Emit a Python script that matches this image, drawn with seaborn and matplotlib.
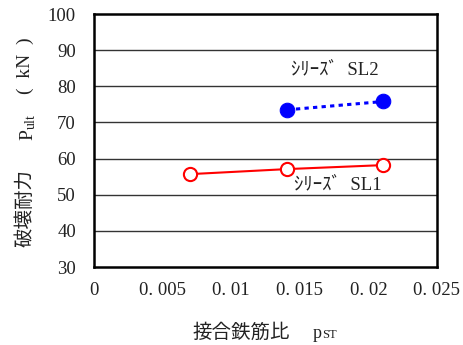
import matplotlib
matplotlib.use("Agg")
import matplotlib.pyplot as plt
import seaborn as sns
import pandas as pd

# Series SL1 / SL2: joint reinforcement ratio vs. ultimate strength
sl1_ratio = [0.0070, 0.0141, 0.0211]
sl1_load = [55.7, 57.1, 58.2]
sl2_ratio = [0.0141, 0.0211]
sl2_load = [73.5, 75.8]

x_ticks = [0, 0.005, 0.01, 0.015, 0.02, 0.025]
x_tick_labels = ["0", "0. 005", "0. 01", "0. 015", "0. 02", "0. 025"]
y_ticks = [30, 40, 50, 60, 70, 80, 90, 100]

sns.set_theme(style="white")
plt.rcParams["font.family"] = ["Liberation Serif", "Noto Sans CJK JP", "DejaVu Sans"]
plt.rcParams["mathtext.fontset"] = "stix"
plt.rcParams["text.color"] = "#222222"

df1 = pd.DataFrame({"p": sl1_ratio, "P": sl1_load})
df2 = pd.DataFrame({"p": sl2_ratio, "P": sl2_load})

W, H = 464, 345
fig = plt.figure(figsize=(W / 100, H / 100), dpi=100)
ax = fig.add_axes([0.2026, 0.226, 0.7392, 0.7334])

for y in y_ticks[1:-1]:
    ax.axhline(y, color="#333333", lw=1.0, zorder=0)

sns.lineplot(data=df1, x="p", y="P", ax=ax, color="red", lw=1.5,
             marker="o", markersize=9.5, markerfacecolor="white",
             markeredgecolor="red", markeredgewidth=1.5)
sns.lineplot(data=df2, x="p", y="P", ax=ax, color="blue", lw=2.2,
             linestyle=(0, (1.4, 1.4)), marker="o", markersize=10.5,
             markerfacecolor="blue", markeredgecolor="blue")

ax.set_xlim(0, 0.025)
ax.set_ylim(30, 100)
ax.set_xticks(x_ticks)
ax.set_xticklabels(x_tick_labels, fontsize=13.5, color="#222222")
ax.set_yticks(y_ticks)
ax.set_yticklabels([str(v) for v in y_ticks], fontsize=13.5, color="#222222")
ax.tick_params(length=0)
ax.tick_params(axis="x", pad=11)
ax.tick_params(axis="y", pad=13)
ax.set_xlabel("")
ax.set_ylabel("")

for s in ax.spines.values():
    s.set_color("black")
    s.set_linewidth(1.8)

# x-axis title: Japanese text followed by p with small "ST"
fig.text(192 / W, (H - 332) / H, "接合鉄筋比", fontsize=14,
         family=["Noto Sans CJK JP"], ha="left", va="center")
fig.text(313 / W, (H - 338) / H, "p", fontsize=13, ha="left", va="baseline")
fig.text(322 / W, (H - 338) / H, "ST", fontsize=9, ha="left", va="baseline")

# y-axis title, rotated, built up from bottom to top
yl1 = fig.text(25 / W, (H - 247) / H, "破壊耐力", fontsize=14,
               family=["Noto Sans CJK JP"], rotation=90,
               ha="center", va="bottom")
yl2 = ax.annotate(r"$\mathregular{P_{ult}}$", xy=(0.5, 1), xycoords=yl1,
                  xytext=(2, 20), textcoords="offset points", rotation=90,
                  ha="center", va="bottom", fontsize=14)
ax.annotate("(  kN  )", xy=(0.5, 1), xycoords=yl2,
            xytext=(-2, 14), textcoords="offset points", rotation=90,
            ha="center", va="bottom", fontsize=14)

ax.text(0.01436, 84.5, "ｼﾘｰｽﾞ  SL2", fontsize=13.5, ha="left", va="center")
ax.text(0.01458, 52.7, "ｼﾘｰｽﾞ  SL1", fontsize=13.5, ha="left", va="center")

fig.savefig("out.png", dpi=100)
